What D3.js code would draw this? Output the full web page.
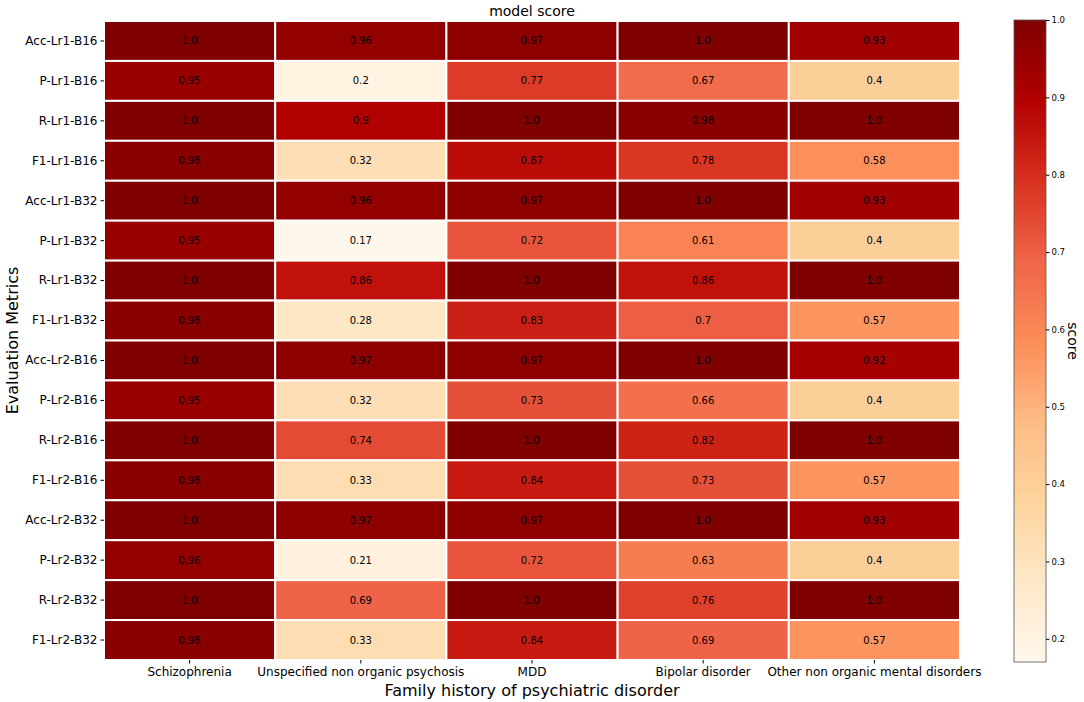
<!DOCTYPE html>
<html lang="en">
<head>
<meta charset="UTF-8">
<title>model score</title>
<script src="https://d3js.org/d3.v7.min.js"></script>
<style>
  body { margin: 0; background: #fff; }
  svg text { font-family: "DejaVu Sans", sans-serif; }
</style>
</head>
<body>
<script>
// data
const metrics = [
  'Acc-Lr1-B16', 'P-Lr1-B16', 'R-Lr1-B16', 'F1-Lr1-B16',
  'Acc-Lr1-B32', 'P-Lr1-B32', 'R-Lr1-B32', 'F1-Lr1-B32',
  'Acc-Lr2-B16', 'P-Lr2-B16', 'R-Lr2-B16', 'F1-Lr2-B16',
  'Acc-Lr2-B32', 'P-Lr2-B32', 'R-Lr2-B32', 'F1-Lr2-B32'
];
const disorders = [
  'Schizophrenia', 'Unspecified non organic psychosis', 'MDD',
  'Bipolar disorder', 'Other non organic mental disorders'
];
const scores = [
  [1.0, 0.96, 0.97, 1.0, 0.93],
  [0.95, 0.2, 0.77, 0.67, 0.4],
  [1.0, 0.9, 1.0, 0.98, 1.0],
  [0.98, 0.32, 0.87, 0.78, 0.58],
  [1.0, 0.96, 0.97, 1.0, 0.93],
  [0.95, 0.17, 0.72, 0.61, 0.4],
  [1.0, 0.86, 1.0, 0.86, 1.0],
  [0.98, 0.28, 0.83, 0.7, 0.57],
  [1.0, 0.97, 0.97, 1.0, 0.92],
  [0.95, 0.32, 0.73, 0.66, 0.4],
  [1.0, 0.74, 1.0, 0.82, 1.0],
  [0.98, 0.33, 0.84, 0.73, 0.57],
  [1.0, 0.97, 0.97, 1.0, 0.93],
  [0.96, 0.21, 0.72, 0.63, 0.4],
  [1.0, 0.69, 1.0, 0.76, 1.0],
  [0.98, 0.33, 0.84, 0.69, 0.57]
];
const cbarTicks = [0.2, 0.3, 0.4, 0.5, 0.6, 0.7, 0.8, 0.9, 1.0];
const scoreMin = 0.17, scoreMax = 1.0;

const w = 1084, h = 702;
const mLeft = 104, mRight = 960, mTop = 21, mBottom = 660;

const svg = d3.select('body').append('svg')
  .attr('width', w)
  .attr('height', h);

// OrRd like matplotlib (linear between the 9 brewer colours)
const orrd = ['#fff7ec', '#fee8c8', '#fdd49e', '#fdbb84', '#fc8d59', '#ef6548', '#d7301f', '#b30000', '#7f0000'];
const norm = d3.scaleLinear().domain([scoreMin, scoreMax]).range([0, 1]).clamp(true);
const ramp = d3.scaleLinear()
  .domain(orrd.map((c, i) => i / (orrd.length - 1)))
  .range(orrd)
  .interpolate(d3.interpolateRgb);
const color = v => ramp(norm(v));

const x = d3.scaleBand().domain(disorders).range([mLeft, mRight]);
const y = d3.scaleBand().domain(metrics).range([mTop, mBottom]);

const cells = [];
scores.forEach((row, i) => row.forEach((v, j) => cells.push({ m: metrics[i], d: disorders[j], v })));

const fmt = v => Number.isInteger(v) ? v.toFixed(1) : String(v);

svg.append('g')
  .selectAll('rect')
  .data(cells)
  .enter()
  .append('rect')
  .attr('x', d => x(d.d))
  .attr('y', d => y(d.m))
  .attr('width', x.bandwidth())
  .attr('height', y.bandwidth())
  .attr('fill', d => color(d.v))
  .attr('stroke', '#fff')
  .attr('stroke-width', 2);

svg.append('g')
  .selectAll('text')
  .data(cells)
  .enter()
  .append('text')
  .attr('x', d => x(d.d) + x.bandwidth() / 2)
  .attr('y', d => y(d.m) + y.bandwidth() / 2)
  .attr('dy', '0.35em')
  .attr('text-anchor', 'middle')
  .attr('font-size', 10)
  .attr('fill', '#000')
  .text(d => fmt(d.v));

// axes
const xAxis = svg.append('g')
  .attr('transform', 'translate(0,' + mBottom + ')')
  .call(d3.axisBottom(x).tickSize(3.5).tickPadding(4));
xAxis.select('.domain').remove();
xAxis.selectAll('text').attr('font-size', 12).attr('fill', '#000');

const yAxis = svg.append('g')
  .attr('transform', 'translate(' + mLeft + ',0)')
  .call(d3.axisLeft(y).tickSize(3.5).tickPadding(3));
yAxis.select('.domain').remove();
yAxis.selectAll('text').attr('font-size', 12).attr('fill', '#000');

svg.append('text')
  .attr('x', (mLeft + mRight) / 2)
  .attr('y', 16)
  .attr('text-anchor', 'middle')
  .attr('font-size', 14)
  .text('model score');

svg.append('text')
  .attr('x', (mLeft + mRight) / 2)
  .attr('y', 696)
  .attr('text-anchor', 'middle')
  .attr('font-size', 16)
  .text('Family history of psychiatric disorder');

svg.append('text')
  .attr('transform', 'translate(18,' + (mTop + mBottom) / 2 + ') rotate(-90)')
  .attr('text-anchor', 'middle')
  .attr('font-size', 16)
  .text('Evaluation Metrics');

// colorbar
const cbX = 1014, cbW = 32;
const cbTop = 20, cbBottom = 662;
const cbScale = d3.scaleLinear().domain([scoreMin, scoreMax]).range([cbBottom, cbTop]);

const grad = svg.append('defs').append('linearGradient')
  .attr('id', 'cbar')
  .attr('x1', 0).attr('y1', 1).attr('x2', 0).attr('y2', 0);
grad.selectAll('stop')
  .data(orrd)
  .enter()
  .append('stop')
  .attr('offset', (c, i) => i / (orrd.length - 1))
  .attr('stop-color', c => c);

svg.append('rect')
  .attr('x', cbX)
  .attr('y', cbScale(scoreMax))
  .attr('width', cbW)
  .attr('height', cbScale(scoreMin) - cbScale(scoreMax))
  .attr('fill', 'url(#cbar)')
  .attr('stroke', '#555')
  .attr('stroke-width', 0.8);

const cbAxis = svg.append('g')
  .attr('transform', 'translate(' + (cbX + cbW) + ',0)')
  .call(d3.axisRight(cbScale).tickValues(cbarTicks).tickFormat(d3.format('.1f')).tickSize(3.5).tickPadding(2));
cbAxis.select('.domain').remove();
cbAxis.selectAll('text').attr('font-size', 8.5).attr('fill', '#000');

svg.append('text')
  .attr('transform', 'translate(1068,' + (cbTop + cbBottom) / 2 + ') rotate(90)')
  .attr('text-anchor', 'middle')
  .attr('font-size', 14)
  .text('score');
</script>
</body>
</html>
